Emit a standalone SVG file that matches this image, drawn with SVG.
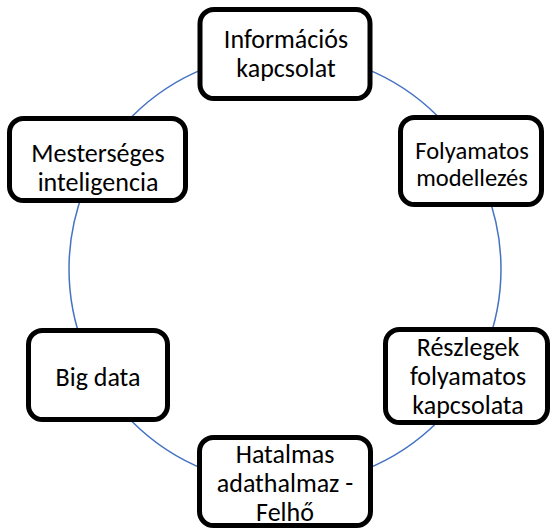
<svg xmlns="http://www.w3.org/2000/svg" width="553" height="530" viewBox="0 0 553 530">
<style>
.box{fill:#ffffff;stroke:#000000;stroke-width:5}
.t{font-family:"Carlito","Liberation Sans",Arial,sans-serif;font-size:26px;fill:#000000;text-anchor:middle}
.s{font-size:24.5px}
.conn{fill:none;stroke:#4472C4;stroke-width:1.5}
</style>
<rect width="553" height="530" fill="#ffffff"/>
<g id="connectors">
<circle class="conn" cx="285" cy="269" r="216"/>
</g>
<g id="node-informacios">
<rect class="box" x="200" y="9.5" width="170" height="89" rx="14"/>
<text class="t" x="286" y="48">Információs</text>
<text class="t" x="286" y="77">kapcsolat</text>
</g>
<g id="node-mesterseges">
<rect class="box" x="9.5" y="118.5" width="176" height="82" rx="14"/>
<text class="t" x="98" y="162">Mesterséges</text>
<text class="t" x="98" y="191">inteligencia</text>
</g>
<g id="node-folyamatos">
<rect class="box" x="400.5" y="117.5" width="141" height="87" rx="14"/>
<text class="t s" x="472" y="159">Folyamatos</text>
<text class="t s" x="472" y="186">modellezés</text>
</g>
<g id="node-bigdata">
<rect class="box" x="28.5" y="330.5" width="139" height="89" rx="14"/>
<text class="t" x="98" y="386">Big data</text>
</g>
<g id="node-reszlegek">
<rect class="box" x="385.5" y="329.5" width="162" height="93" rx="14"/>
<text class="t" x="468" y="356">Részlegek</text>
<text class="t" x="468" y="385">folyamatos</text>
<text class="t" x="468" y="414">kapcsolata</text>
</g>
<g id="node-hatalmas">
<rect class="box" x="199.5" y="437.5" width="171" height="88" rx="14"/>
<text class="t" x="285" y="463">Hatalmas</text>
<text class="t" x="285" y="492">adathalmaz -</text>
<text class="t" x="285" y="521">Felhő</text>
</g>
</svg>
